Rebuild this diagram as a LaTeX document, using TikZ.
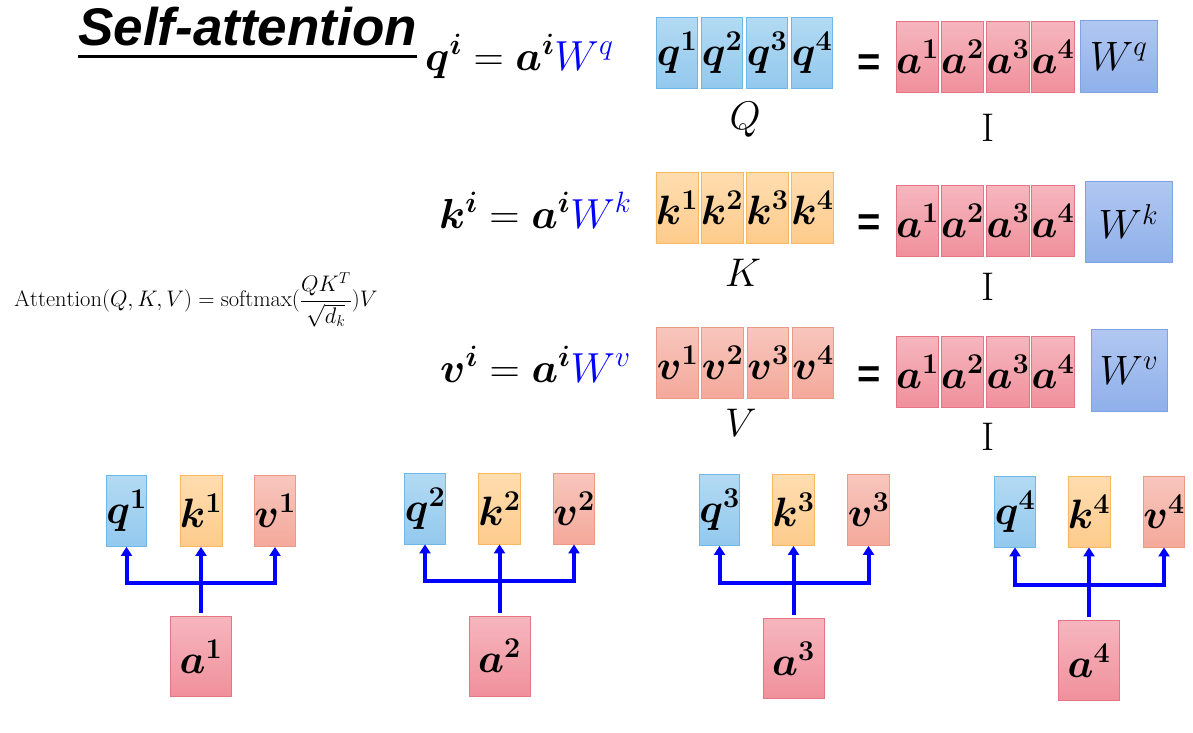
\RequirePackage{fix-cm}
\documentclass[tikz,border=0pt]{standalone}
\usepackage{amsmath,amssymb}
\usepackage{bm}
\usepackage{fontspec}
\setsansfont{Liberation Sans}
\usepackage{tikz}
\usetikzlibrary{arrows.meta,positioning}
\usepackage{xcolor}

\definecolor{qtop}{HTML}{B3DAF3}
\definecolor{qbot}{HTML}{93C9EE}
\definecolor{qline}{HTML}{6DB8E8}
\definecolor{ktop}{HTML}{FFDDB0}
\definecolor{kbot}{HTML}{FDCB8C}
\definecolor{kline}{HTML}{F8B860}
\definecolor{vtop}{HTML}{F8C6BD}
\definecolor{vbot}{HTML}{F4A99B}
\definecolor{vline}{HTML}{EE9887}
\definecolor{atop}{HTML}{F6B6BE}
\definecolor{abot}{HTML}{F0909C}
\definecolor{aline}{HTML}{E47584}
\definecolor{wtop}{HTML}{B1C7F1}
\definecolor{wbot}{HTML}{8FB0EA}
\definecolor{wline}{HTML}{7EA2E2}

\begin{document}
\begin{tikzpicture}[x=1pt, y=-1pt,
  box/.style={draw, line width=0.8pt, inner sep=0pt, minimum width=38.5pt, minimum height=71pt, font=\fontsize{41}{44}\selectfont},
  qbox/.style={box, draw=qline, top color=qtop, bottom color=qbot},
  kbox/.style={box, draw=kline, top color=ktop, bottom color=kbot},
  vbox/.style={box, draw=vline, top color=vtop, bottom color=vbot},
  abox/.style={box, draw=aline, top color=atop, bottom color=abot},
  inbox/.style={abox, minimum width=61pt, minimum height=80pt},
  wbox/.style={box, draw=wline, top color=wtop, bottom color=wbot},
  eqn/.style={anchor=base west, inner sep=0pt, font=\fontsize{42}{46}\selectfont},
  eqsign/.style={inner sep=0pt, font=\fontsize{40}{44}\selectfont\sffamily\bfseries},
  lbl/.style={inner sep=0pt, font=\fontsize{40}{44}\selectfont},
  flow/.style={draw=blue, line width=4pt, >={Triangle[width=11pt,length=9pt]}}
]

  \fill[white] (0,0) rectangle (1193,732);

  % Titulo
  \node[anchor=base west, inner sep=0pt, font=\fontsize{53}{60}\selectfont\sffamily\bfseries\itshape] (title) at (78,45) {Self-attention};
  \draw[line width=3pt] ([yshift=-11pt]title.base west) -- ([yshift=-11pt]title.base east);

  % Formula
  \node[inner sep=0pt, font=\fontsize{22.5}{26}\selectfont] (formula) at (196,300)
    {$\displaystyle \mathrm{Attention}(Q,K,V)=\mathrm{softmax}(\frac{QK^T}{\sqrt{d_k}})V$};

  % Fila Q
  \node[eqn] (eqq) at (425,70) {$\bm{q}^{\bm{i}} = \bm{a}^{\bm{i}}\textcolor{blue}{W^{q}}$};
  \node[qbox] (rq1) at (677,52.5) {$\bm{q^{1}}$};
  \node[qbox] (rq2) at (722,52.5) {$\bm{q^{2}}$};
  \node[qbox] (rq3) at (767,52.5) {$\bm{q^{3}}$};
  \node[qbox] (rq4) at (812,52.5) {$\bm{q^{4}}$};
  \node[lbl] (Q) at (745,120) {$Q$};
  \node[eqsign] (eq1) at (869,65) {=};
  \node[abox] (ra11) at (917.5,56.5) {$\bm{a^{1}}$};
  \node[abox] (ra12) at (962.5,56.5) {$\bm{a^{2}}$};
  \node[abox] (ra13) at (1008,56.5) {$\bm{a^{3}}$};
  \node[abox] (ra14) at (1053,56.5) {$\bm{a^{4}}$};
  \node[wbox, minimum width=77pt, minimum height=72pt] (wq) at (1118.5,56) {$W^{q}$};
  \node[lbl] (I1) at (988,128) {I};

  % Fila K
  \node[eqn] (eqk) at (439,228) {$\bm{k}^{\bm{i}} = \bm{a}^{\bm{i}}\textcolor{blue}{W^{k}}$};
  \node[kbox] (rk1) at (677,207.5) {$\bm{k^{1}}$};
  \node[kbox] (rk2) at (722,207.5) {$\bm{k^{2}}$};
  \node[kbox] (rk3) at (767.5,207.5) {$\bm{k^{3}}$};
  \node[kbox] (rk4) at (812.5,207.5) {$\bm{k^{4}}$};
  \node[lbl] (K) at (743,273) {$K$};
  \node[eqsign] (eq2) at (869,225) {=};
  \node[abox] (ra21) at (917.5,221) {$\bm{a^{1}}$};
  \node[abox] (ra22) at (962.5,221) {$\bm{a^{2}}$};
  \node[abox] (ra23) at (1008,221) {$\bm{a^{3}}$};
  \node[abox] (ra24) at (1053,221) {$\bm{a^{4}}$};
  \node[wbox, minimum width=87pt, minimum height=81pt] (wk) at (1128.5,221.5) {$W^{k}$};
  \node[lbl] (I2) at (988,287) {I};

  % Fila V
  \node[eqn] (eqv) at (440,382) {$\bm{v}^{\bm{i}} = \bm{a}^{\bm{i}}\textcolor{blue}{W^{v}}$};
  \node[vbox] (rv1) at (677.5,362.5) {$\bm{v^{1}}$};
  \node[vbox] (rv2) at (722.5,362.5) {$\bm{v^{2}}$};
  \node[vbox] (rv3) at (768,362.5) {$\bm{v^{3}}$};
  \node[vbox] (rv4) at (813,362.5) {$\bm{v^{4}}$};
  \node[lbl] (V) at (741,423) {$V$};
  \node[eqsign] (eq3) at (869,377) {=};
  \node[abox] (ra31) at (917.5,371.5) {$\bm{a^{1}}$};
  \node[abox] (ra32) at (962.5,371.5) {$\bm{a^{2}}$};
  \node[abox] (ra33) at (1008,371.5) {$\bm{a^{3}}$};
  \node[abox] (ra34) at (1053,371.5) {$\bm{a^{4}}$};
  \node[wbox, minimum width=76pt, minimum height=82pt] (wv) at (1129,370) {$W^{v}$};
  \node[lbl] (I3) at (988,437) {I};

  % Bloques de abajo
  \node[qbox] (q1) at (126.5,511) {$\bm{q^{1}}$};
  \node[kbox] (k1) at (201,511) {$\bm{k^{1}}$};
  \node[vbox] (v1) at (275,511) {$\bm{v^{1}}$};
  \node[inbox] (a1) at (201,656.5) {$\bm{a^{1}}$};
  \coordinate (j1) at (201,583);

  \node[qbox] (q2) at (425,508.5) {$\bm{q^{2}}$};
  \node[kbox] (k2) at (499.5,508.5) {$\bm{k^{2}}$};
  \node[vbox] (v2) at (574,508.5) {$\bm{v^{2}}$};
  \node[inbox] (a2) at (499.5,656) {$\bm{a^{2}}$};
  \coordinate (j2) at (499.5,580.5);

  \node[qbox] (q3) at (719.5,510) {$\bm{q^{3}}$};
  \node[kbox] (k3) at (793.5,510) {$\bm{k^{3}}$};
  \node[vbox] (v3) at (868.5,510) {$\bm{v^{3}}$};
  \node[inbox] (a3) at (793.5,658.5) {$\bm{a^{3}}$};
  \coordinate (j3) at (793.5,582.5);

  \node[qbox] (q4) at (1015,511.5) {$\bm{q^{4}}$};
  \node[kbox] (k4) at (1089,511.5) {$\bm{k^{4}}$};
  \node[vbox] (v4) at (1164,511.5) {$\bm{v^{4}}$};
  \node[inbox] (a4) at (1089,660.5) {$\bm{a^{4}}$};
  \coordinate (j4) at (1089,584.5);

  % Flechas
  \draw[flow, ->] ([yshift=3pt]a1.north) -- (k1.south);
  \draw[flow, <->] (q1.south) |- (j1) -| (v1.south);
  \draw[flow, ->] ([yshift=3pt]a2.north) -- (k2.south);
  \draw[flow, <->] (q2.south) |- (j2) -| (v2.south);
  \draw[flow, ->] ([yshift=3pt]a3.north) -- (k3.south);
  \draw[flow, <->] (q3.south) |- (j3) -| (v3.south);
  \draw[flow, ->] ([yshift=3pt]a4.north) -- (k4.south);
  \draw[flow, <->] (q4.south) |- (j4) -| (v4.south);
\end{tikzpicture}
\end{document}
